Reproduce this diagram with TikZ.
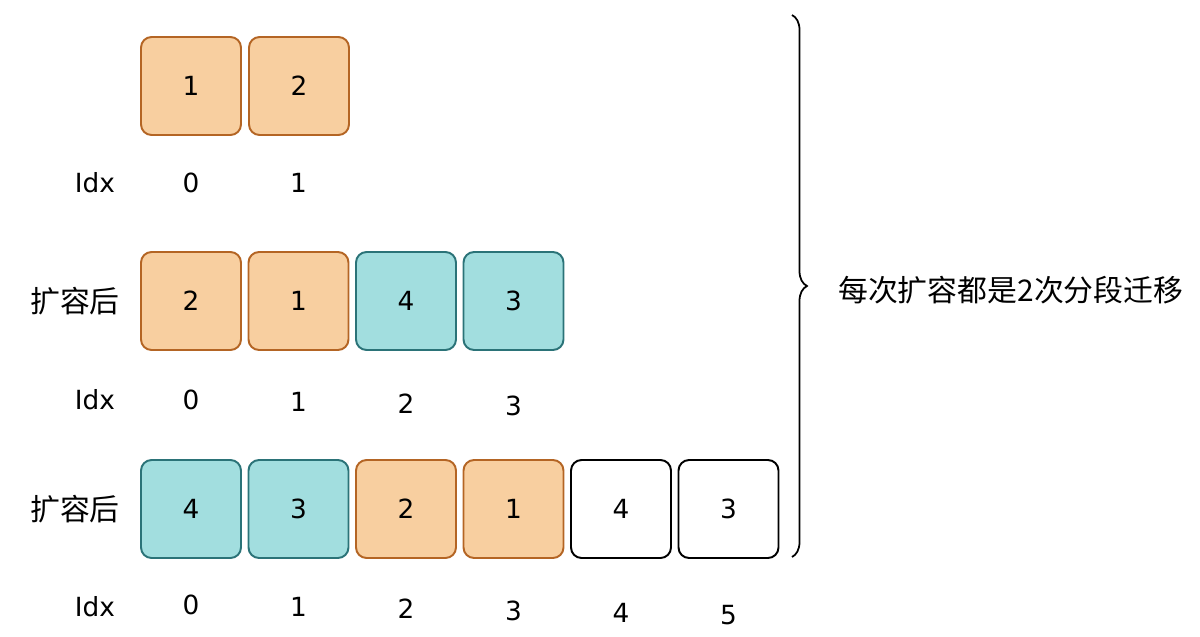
\documentclass[tikz,border=0pt]{standalone}
\usepackage{fontspec}
\setmainfont{DejaVu Sans}
\newfontfamily\cjk{Noto Sans CJK SC}
\usetikzlibrary{decorations.pathreplacing}
\definecolor{oldfill}{HTML}{F8CFA0}
\definecolor{olddraw}{HTML}{B46524}
\definecolor{newfill}{HTML}{A2DEDF}
\definecolor{newdraw}{HTML}{2B7378}
\tikzset{
  cell/.style={draw, rounded corners=6pt, line width=1.1pt, minimum width=2cm, minimum height=1.96cm, font=\fontsize{15}{18}\selectfont},
  oldcell/.style={cell, fill=oldfill, draw=olddraw},
  newcell/.style={cell, fill=newfill, draw=newdraw},
  emptycell/.style={cell, fill=white, draw=black},
  idx/.style={font=\fontsize{15}{18}\selectfont},
  tag/.style={font=\cjk\fontsize{17}{20}\selectfont}
}
\begin{document}
\begin{tikzpicture}[x=0.02cm,y=-0.02cm]
\useasboundingbox (0,0) rectangle (1200,636);
% first row
\node[oldcell] (a0) at (191,86) {1};
\node[oldcell] (a1) at (299,86) {2};
\node[idx] (ai) at (95,183) {Idx};
\foreach \i in {0,1}
  \node[idx] (ai\i) at (191+\i*107.5,183) {\i};
% second row
\node[tag] (bt) at (75,301) {扩容后};
\foreach \v/\s [count=\i from 0] in {2/oldcell,1/oldcell,4/newcell,3/newcell}
  \node[\s] (b\i) at (191+\i*107.5,301) {\v};
\node[idx] (bi) at (95,400) {Idx};
\foreach \i in {0,...,3}
  \node[idx] (bi\i) at (191+\i*107.5,400+\i*2) {\i};
% third row
\node[tag] (ct) at (75,509) {扩容后};
\foreach \v/\s [count=\i from 0] in {4/newcell,3/newcell,2/oldcell,1/oldcell,4/emptycell,3/emptycell}
  \node[\s] (c\i) at (191+\i*107.5,509) {\v};
\node[idx] (ci) at (95,607) {Idx};
\foreach \i in {0,...,5}
  \node[idx] (ci\i) at (191+\i*107.5,605+\i*2) {\i};
% brace
\coordinate (top) at (792,15);
\coordinate (bot) at (792,557);
\draw[line width=1pt, decorate, decoration={brace, amplitude=0.3cm}] (top) -- (bot);
\node[tag, anchor=west] (note) at (832,290) {每次扩容都是2次分段迁移};
\end{tikzpicture}
\end{document}
